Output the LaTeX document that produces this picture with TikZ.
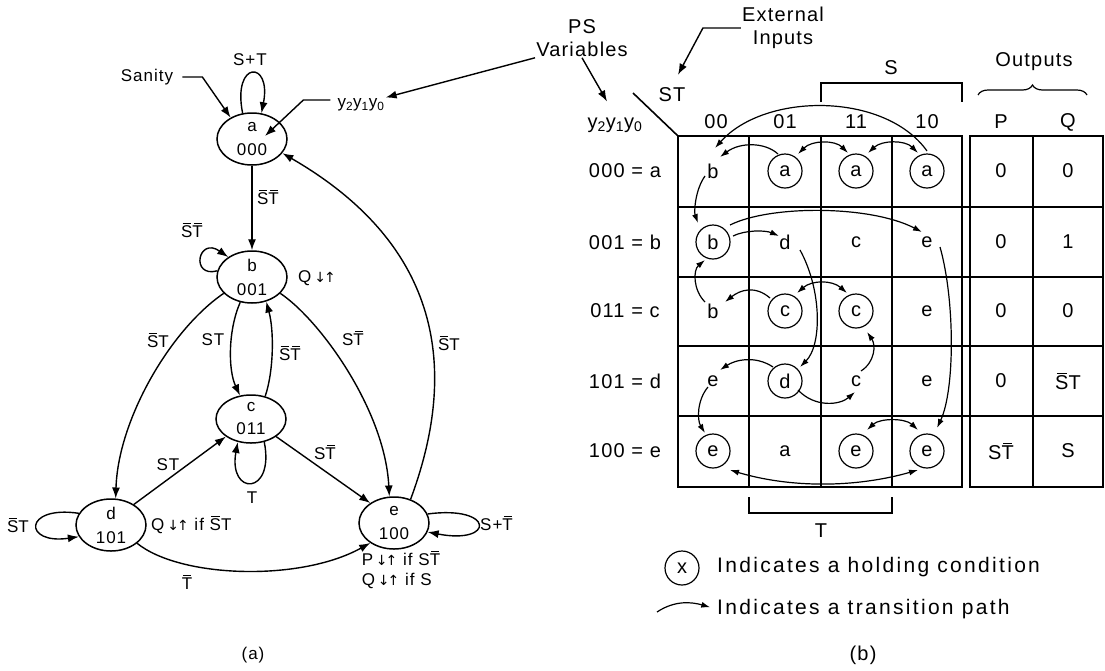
\documentclass[tikz,border=0pt]{standalone}
\usepackage{fontspec}
\setmainfont{Liberation Sans}[LetterSpace=6]
\newfontfamily\arrfont{DejaVu Sans}
\usetikzlibrary{shapes.geometric, arrows.meta, calc, decorations.pathreplacing}
\newcommand{\nb}[1]{\setbox0\hbox{#1}\vbox{\offinterlineskip\hbox to\wd0{\hss\vrule width 0.75\wd0 height 1.2pt\hss}\kern1.6pt\box0}}
\newcommand{\pulse}{{\arrfont\fontsize{14}{16}\selectfont ↓\kern-2pt↑}}
\tikzset{
  lbl/.style={font=\fontsize{17}{20}\selectfont, inner sep=1pt},
  klbl/.style={font=\fontsize{20}{23}\selectfont, inner sep=1pt, align=center},
  leg/.style={font=\fontsize{21}{24}\selectfont\addfontfeature{LetterSpace=11}, inner sep=1pt, anchor=west},
  stnode/.style={ellipse, draw, line width=1.5pt, minimum width=70pt, minimum height=52pt,
                 inner sep=0pt, align=center, font=\fontsize{17}{20}\selectfont},
  arr/.style={-{Latex[length=11pt,width=8pt]}, line width=1.4pt},
  cell/.style={circle, minimum size=22pt, inner sep=0pt, font=\fontsize{20}{23}\selectfont},
  hold/.style={cell, draw, minimum size=34pt, line width=1.2pt},
  karr/.style={-{Latex[length=9pt,width=6pt]}, line width=1.2pt},
  kdarr/.style={{Latex[length=9pt,width=6pt]}-{Latex[length=9pt,width=6pt]}, line width=1.2pt},
  kgrid/.style={line width=1.6pt},
}
\begin{document}
\begin{tikzpicture}[x=1pt, y=-1pt]
  \useasboundingbox (0,0) rectangle (1105,670);
  % (a) state diagram
  \node[stnode] (a) at (252,139) {a\\[4pt]000};
  \node[stnode] (b) at (252,277) {b\\[4pt]001};
  \node[stnode, minimum height=48pt] (c) at (251,419) {c\\[3pt]011};
  \node[stnode] (d) at (111,525) {d\\[4pt]101};
  \node[stnode] (e) at (394,523) {e\\[4pt]100};
  \node[lbl] (san) at (147,77) {Sanity};
  \node[lbl] (yv) at (361,105) {y\textsubscript{2}y\textsubscript{1}y\textsubscript{0}};
  \draw[arr] ($(san.east)+(8,0)$) -- ++(20,0) -- (a.135);
  \draw[arr] ($(yv.west)+(-6,-5)$) -- ++(-27,0) -- ($(a)+(13,-3)$);
  \draw[arr] (a.110) .. controls (232,60) and (272,60) .. (a.70);
  \node[lbl] (lst) at (250,60) {S+T};
  \draw[arr] (a) -- (b);
  \node[lbl] (lab) at (268,197) {\nb{S}\nb{T}};
  \draw[arr] (b.170) .. controls (190,278) and (198,236) .. (b.140);
  \node[lbl] (lbb) at (192,230) {\nb{S}\nb{T}};
  \node[lbl, anchor=west] (qb) at (297,278) {Q\,\pulse};
  \draw[arr] (b.210) .. controls (170,330) and (118,420) .. (d.80);
  \node[lbl] (lbd) at (158,340) {\nb{S}T};
  \draw[arr] (b.245) .. controls (228,330) and (228,370) .. (c.115);
  \node[lbl] (lbc) at (213,340) {ST};
  \draw[arr] (c.58) .. controls (274,370) and (274,330) .. (b.300);
  \node[lbl] (lcb) at (290,353) {\nb{S}\nb{T}};
  \draw[arr] (b.330) .. controls (320,320) and (385,410) .. (e.100);
  \node[lbl] (lbe) at (353,338) {S\nb{T}};
  \draw[arr] (e.55) .. controls (455,380) and (450,250) .. (a.335);
  \node[lbl] (lea) at (449,343) {\nb{S}T};
  \draw[arr] (c.300) .. controls (275,496) and (228,496) .. (c.240);
  \node[lbl] (lcc) at (252,498) {T};
  \draw[arr] (d.42) -- (c.215);
  \node[lbl] (ldc) at (168,465) {ST};
  \draw[arr] (c.325) -- (e.140);
  \node[lbl] (lce) at (325,452) {S\nb{T}};
  \draw[arr] (d.160) .. controls (23,505) and (23,545) .. (d.200);
  \node[lbl] (ldd) at (18,525) {\nb{S}T};
  \node[lbl, anchor=west] (qd) at (150,525) {Q\,\pulse\ if \nb{S}T};
  \draw[arr] (d.325) .. controls (180,578) and (300,582) .. (e.220);
  \node[lbl] (lde) at (187,582) {\nb{T}};
  \draw[arr] (e.15) .. controls (495,505) and (495,545) .. (e.345);
  \node[lbl, anchor=west] (lee) at (479,523) {S+\nb{T}};
  \node[lbl, align=left, anchor=north] (pe) at (401,550) {P\,\pulse\ if S\nb{T}\\Q\,\pulse\ if S};
  \node[lbl] (capa) at (253,655) {(a)};
  % (b) transition table
  \node[klbl] (psv) at (582,38) {PS\\Variables};
  \node[klbl] (kyv) at (615,125) {y\textsubscript{2}y\textsubscript{1}y\textsubscript{0}};
  \node[klbl] (st) at (672,95) {ST};
  \node[klbl] (ext) at (783,28) {External\\Inputs};
  \draw[arr] (psv.south west) -- (yv.north east);
  \draw[arr] (psv.south) -- ($(kyv.north)+(-8,-15)$);
  \draw[arr] (ext.west) -- ++(-38,0) -- ($(st.north)+(6,-12)$);
  \coordinate (stc) at (633,93);
  \coordinate (g0) at (678,136);
  \draw[kgrid] (stc) -- (g0);
  \draw[kgrid] (g0) rectangle (962,487);
  \draw[kgrid] (970,136) rectangle (1103,487);
  \foreach \x in {749,821,892,1033} \draw[kgrid] (\x,136) -- (\x,487);
  \foreach \y in {207,277,346,416} \draw[kgrid] (678,\y) -- (1103,\y);
  \foreach \x/\t in {716/00,785/01,856/11,927/10} \node[klbl] (h\t) at (\x,122) {\t};
  \node[klbl] (hp) at (1001,122) {P};
  \node[klbl] (hq) at (1068,122) {Q};
  \foreach \rw/\y/\code/\p/\q in {a/171/000/0/0, b/242/001/0/1, c/311/011/0/0,
      d/381/101/0/{\nb{S}T}, e/451/100/{S\nb{T}}/S} {
    \node[klbl] (row\rw) at (625,\y) {\code\ =\ \rw};
    \node[klbl] (p\rw) at (1001,\y) {\p};
    \node[klbl] (q\rw) at (1068,\y) {\q};
  }
  \foreach \rw/\y/\la/\sa/\lb/\sb/\lc/\sc/\ld/\sd in {a/171/b/cell/a/hold/a/hold/a/hold,
      b/242/b/hold/d/cell/c/cell/e/cell, c/311/b/cell/c/hold/c/hold/e/cell,
      d/381/e/cell/d/hold/c/cell/e/cell, e/451/e/hold/a/cell/e/hold/e/hold} {
    \node[\sa] (k\rw1) at (713,\y) {\la};
    \node[\sb] (k\rw2) at (785,\y) {\lb};
    \node[\sc] (k\rw3) at (856,\y) {\lc};
    \node[\sd] (k\rw4) at (927,\y) {\ld};
  }
  \draw[line width=1.2pt] (821,102) -- (821,83) -- (962,83) -- (962,102);
  \node[klbl] (sl) at (891,68) {S};
  \draw[line width=1.2pt, decorate, decoration={brace, amplitude=10pt}] (978,95) -- (1087,95);
  \node[klbl] (outl) at (1034,62) {Outputs};
  \draw[line width=1.2pt] (749,497) -- (749,513) -- (892,513) -- (892,497);
  \node[klbl] (tl) at (821,531) {T};
  % transition paths
  \draw[karr] ($(ka4)+(0,-20)$) .. controls (885,92) and (765,92) .. ($(ka1)+(2,-23)$);
  \draw[karr] ($(ka2)+(-7,-17)$) .. controls (765,142) and (740,142) .. ($(ka1)+(7,-14)$);
  \draw[kdarr] ($(ka2)+(13,-17)$) .. controls (812,140) and (835,140) .. ($(ka3)+(-8,-18)$);
  \draw[kdarr] ($(ka3)+(12,-18)$) .. controls (882,140) and (905,140) .. ($(ka4)+(-9,-18)$);
  \draw[karr] ($(ka1)+(-8,5)$) .. controls (695,190) and (694,212) .. ($(kb1)+(-15,-19)$);
  \draw[karr] ($(kb1)+(17,-17)$) .. controls (770,205) and (870,205) .. ($(kb4)+(-5,-10)$);
  \draw[karr] ($(kb1)+(20,-6)$) .. controls (745,230) and (765,230) .. ($(kb2)+(-6,-6)$);
  \draw[karr] ($(kb2)+(15,8)$) .. controls (822,290) and (822,345) .. ($(kd2)+(15,-14)$);
  \draw[karr] ($(kb4)+(13,5)$) .. controls (955,300) and (955,390) .. ($(ke4)+(10,-23)$);
  \draw[karr] ($(kc1)+(-8,-9)$) .. controls (693,290) and (693,270) .. ($(kb1)+(-8,18)$);
  \draw[karr] ($(kc2)+(-15,-13)$) .. controls (755,285) and (740,290) .. ($(kc1)+(12,-9)$);
  \draw[kdarr] ($(kc2)+(12,-18)$) .. controls (812,280) and (832,280) .. ($(kc3)+(-9,-18)$);
  \draw[karr] ($(kd3)+(5,-10)$) .. controls (875,362) and (876,345) .. ($(kc3)+(11,21)$);
  \draw[karr] ($(kd2)+(-12,-14)$) .. controls (755,355) and (735,360) .. ($(kd1)+(7,-11)$);
  \draw[karr] ($(kd2)+(13,9)$) .. controls (815,408) and (840,405) .. ($(kd3)+(-1,11)$);
  \draw[karr] ($(kd1)+(-5,6)$) .. controls (697,400) and (697,420) .. ($(ke1)+(-8,-18)$);
  \draw[kdarr] ($(ke3)+(11,-21)$) .. controls (880,418) and (905,418) .. ($(ke4)+(-9,-21)$);
  \draw[kdarr] ($(ke1)+(17,19)$) .. controls (790,488) and (855,488) .. ($(ke4)+(-9,19)$);
  % legend
  \node[hold] (lgx) at (682,568) {x};
  \node[leg] (lgh) at (716,567) {Indicates a holding condition};
  \coordinate (lgs) at (657,612);
  \node[leg] (lgt) at (716,609) {Indicates a transition path};
  \draw[karr, shorten >=6pt] (lgs) .. controls (675,600) and (692,602) .. (lgt.west);
  \node[klbl] (capb) at (863,655) {(b)};
\end{tikzpicture}
\end{document}
